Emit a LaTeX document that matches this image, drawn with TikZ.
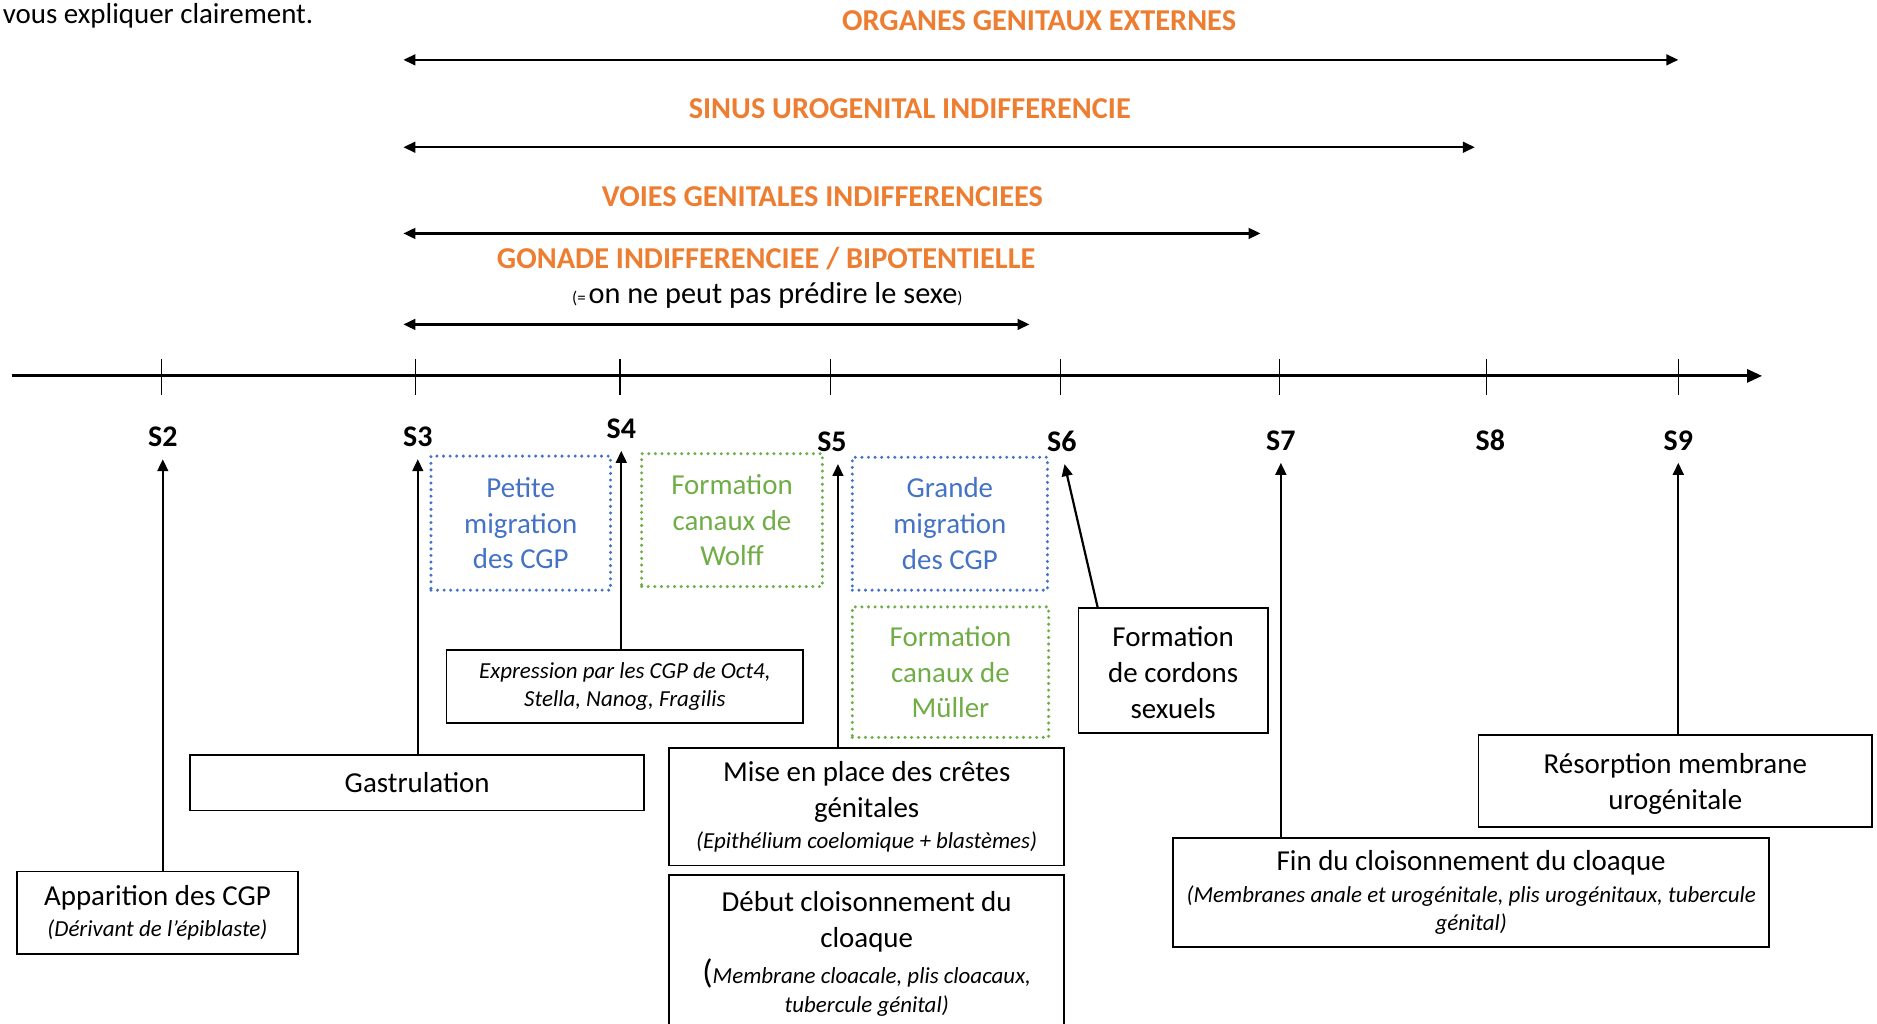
\documentclass[tikz,border=0pt]{standalone}
\usepackage{fontspec}
\setmainfont{Carlito}
\usetikzlibrary{arrows.meta}
\definecolor{offorange}{RGB}{237,125,49}
\definecolor{offblue}{RGB}{68,114,196}
\definecolor{offgreen}{RGB}{112,173,71}
\newcommand{\precis}[1]{{\fontsize{11.5pt}{14pt}\selectfont\itshape #1}}

\begin{document}
\begin{tikzpicture}[x=0.6pt, y=-0.6pt,
    event/.style={rectangle, draw, line width=0.9pt, align=center, inner sep=0pt, font=\fontsize{14.5pt}{18pt}\selectfont},
    dotbox/.style={event, line width=1.7pt, dash pattern=on 0pt off 3.3pt, line cap=round},
    title/.style={text=offorange, font=\fontsize{15.2pt}{18pt}\selectfont\bfseries, inner sep=0pt},
    week/.style={font=\fontsize{15pt}{18pt}\selectfont\bfseries, inner sep=0pt},
    span/.style={{Triangle[length=6pt,width=5.4pt]}-{Triangle[length=6pt,width=5.4pt]}, line width=1.1pt},
    arrow/.style={-{Triangle[length=6pt,width=5.4pt]}, line width=1.1pt, shorten >=6pt},
    axis/.style={-{Triangle[length=7.5pt,width=6.5pt]}, line width=1.4pt},
    tick/.style={line width=0.7pt}
]
\useasboundingbox (0,0) rectangle (1568,855);

\node[anchor=east, inner sep=0pt, font=\fontsize{14.5pt}{18pt}\selectfont] (intro) at (262,13) {vous expliquer clairement.};

% periodes indifferenciees
\node[title] (oge) at (868,17) {ORGANES GENITAUX EXTERNES};
\node[title] (sinus) at (760,91) {SINUS UROGENITAL INDIFFERENCIE};
\node[title] (voies) at (687,164) {VOIES GENITALES INDIFFERENCIEES};
\node[title] (gonade) at (640,216) {GONADE INDIFFERENCIEE / BIPOTENTIELLE};
\node[inner sep=0pt, font=\fontsize{15.2pt}{18pt}\selectfont] (gonsub) at (641,247) {{\fontsize{8.5pt}{10pt}\selectfont(=\,}on ne peut pas prédire le sexe{\fontsize{8.5pt}{10pt}\selectfont)}};

\coordinate (oge-l) at (337,50);   \coordinate (oge-r) at (1402,50);
\coordinate (sinus-l) at (337,123); \coordinate (sinus-r) at (1232,123);
\coordinate (voies-l) at (337,195); \coordinate (voies-r) at (1053,195);
\coordinate (gon-l) at (337,271);   \coordinate (gon-r) at (860,271);
\draw[span] (oge-l) -- (oge-r);
\draw[span] (sinus-l) -- (sinus-r);
\draw[span] (voies-l) -- (voies-r);
\draw[span] (gon-l) -- (gon-r);

% axe des semaines
\coordinate (ax-start) at (10,314);
\coordinate (ax-end) at (1472,314);
\draw[axis] (ax-start) -- (ax-end);
\foreach \x in {135,347,518,694,886,1069,1242,1402}
    \draw[tick] (\x,300) -- (\x,330);
\foreach \n/\x/\y in {2/136/365, 3/349/365, 4/519/358, 5/695/369, 6/887/369, 7/1070/368, 8/1245/368, 9/1402/368}
    \node[week] (s\n) at (\x,\y) {S\n};

% evenements
\node[dotbox, draw=offblue, text=offblue, minimum width=90pt, minimum height=67.2pt] (petite) at (435,437) {Petite\\migration\\des CGP};
\node[dotbox, draw=offgreen, text=offgreen, minimum width=90.6pt, minimum height=66.6pt] (wolff) at (611.5,434.5) {Formation\\canaux de\\Wolff};
\node[dotbox, draw=offblue, text=offblue, minimum width=97.8pt, minimum height=66.6pt] (grande) at (793.5,437.5) {Grande\\migration\\des CGP};
\node[dotbox, draw=offgreen, text=offgreen, minimum width=98.4pt, minimum height=65.4pt] (muller) at (794,561.5) {Formation\\canaux de\\Müller};
\node[event, minimum width=94.8pt, minimum height=62.4pt] (cordons) at (980,560) {\strut Formation\\de cordons\\sexuels};
\node[event, minimum width=178.8pt, minimum height=36.6pt, font=\fontsize{11.5pt}{14pt}\selectfont\itshape] (expr) at (522,573.5) {Expression par les CGP de Oct4,\\Stella, Nanog, Fragilis};
\node[event, minimum width=227.4pt, minimum height=27.6pt] (gastru) at (348.5,654) {Gastrulation};
\node[event, minimum width=198pt, minimum height=58.8pt] (cretes) at (724,674) {Mise en place des crêtes\\génitales\\[-2.4pt]\precis{(Epithélium coelomique + blastèmes)}};
\node[event, minimum width=198pt, minimum height=79.2pt] (debut) at (724,797) {Début cloisonnement du\\cloaque\\{\fontsize{17pt}{18pt}\selectfont(}\precis{Membrane cloacale, plis cloacaux,}\\[-3.6pt]\precis{tubercule génital)}};
\node[event, minimum width=141pt, minimum height=41.4pt] (apparition) at (131.5,762.5) {Apparition des CGP\\[-2.4pt]\precis{(Dérivant de l’épiblaste)}};
\node[event, minimum width=298.8pt, minimum height=54.6pt] (fin) at (1229,745.5) {Fin du cloisonnement du cloaque\\[-1.8pt]\precis{(Membranes anale et urogénitale, plis urogénitaux, tubercule}\\[-4.2pt]\precis{génital)}};
\node[event, minimum width=197.4pt, minimum height=46.2pt] (resorption) at (1399.5,652.5) {\strut Résorption membrane\\urogénitale};

\draw[arrow] (apparition.north -| s2) -- (s2.south);
\draw[arrow] (gastru.north -| s3) -- (s3.south);
\draw[arrow] (expr.north -| s4) -- (s4.south);
\draw[arrow] ([xshift=-14.4pt]cretes.north) -- ([xshift=-14.4pt]cretes.north |- s5.south);
\draw[arrow] ([xshift=10pt]cordons.north west) -- (s6.south);
\draw[arrow] (fin.north -| s7) -- (s7.south);
\draw[arrow] (resorption.north -| s9) -- (s9.south);
\end{tikzpicture}
\end{document}
